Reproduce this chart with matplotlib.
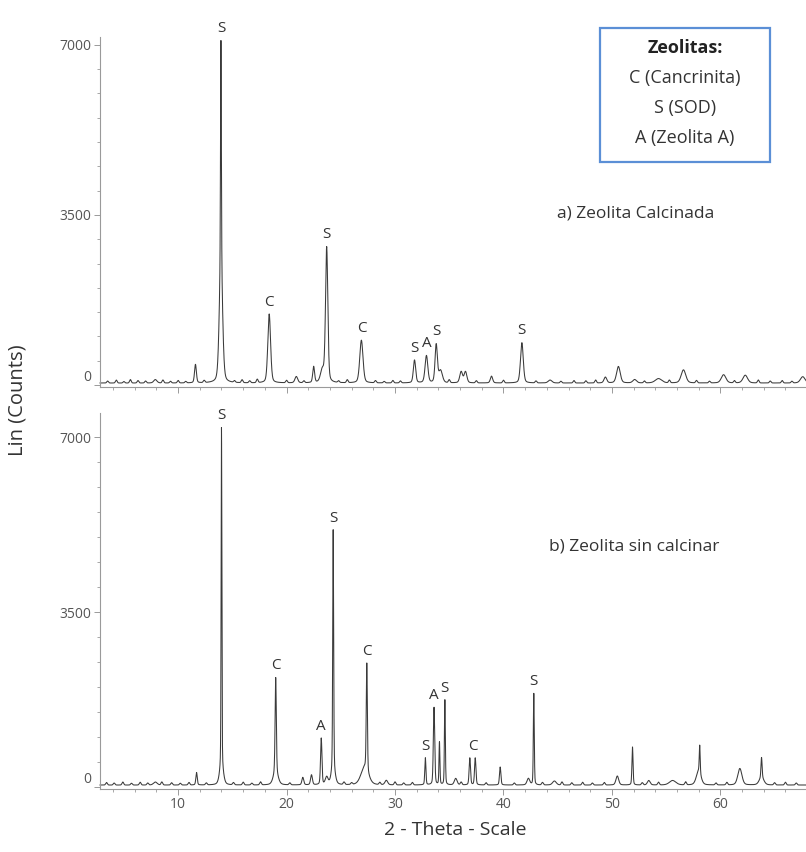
import matplotlib.pyplot as plt
from matplotlib.patches import Rectangle
from matplotlib.ticker import MultipleLocator
import numpy as np

plt.rcParams['font.family'] = ['Open Sans', 'DejaVu Sans']

# a) calcined zeolite: reflections (2-theta), heights (counts), FWHM (deg)
calc_pos = [7.9, 11.6, 13.95, 13.95, 18.4, 20.9, 22.5, 23.3, 23.7, 26.9,
            31.8, 32.9, 33.8, 34.2, 36.1, 36.5, 38.9, 41.7, 44.3, 49.4,
            50.6, 52.1, 54.3, 56.6, 60.3, 62.3, 67.6]
calc_height = [70, 380, 4600, 2450, 1420, 130, 330, 250, 2780, 880,
               470, 560, 780, 250, 230, 230, 140, 830, 60, 120,
               340, 70, 90, 270, 170, 160, 130]
calc_width = [0.35, 0.2, 0.09, 0.35, 0.3, 0.3, 0.2, 0.4, 0.25, 0.35,
              0.25, 0.3, 0.25, 0.4, 0.3, 0.3, 0.25, 0.3, 0.4, 0.3,
              0.4, 0.4, 0.7, 0.5, 0.5, 0.5, 0.5]

# small background wiggles of pattern a)
calc_ripple_pos = [3.5, 4.3, 5.0, 5.6, 6.3, 7.0, 8.6, 9.3, 10.0, 10.7,
                   12.4, 15.2, 15.9, 16.6, 17.3, 20.0, 21.6, 24.8, 25.6, 28.2,
                   29.0, 29.8, 30.5, 35.0, 37.5, 40.0, 43.0, 45.3, 46.5, 47.6,
                   48.5, 53.0, 55.3, 57.8, 59.0, 61.3, 63.5, 64.6, 65.7, 66.6]
calc_ripple_height = [40, 60, 30, 70, 50, 40, 60, 35, 50, 30,
                      45, 35, 60, 40, 70, 50, 40, 35, 60, 45,
                      30, 50, 40, 60, 45, 55, 40, 35, 50, 45,
                      60, 40, 55, 50, 35, 45, 60, 40, 50, 35]

# b) uncalcined zeolite
raw_pos = [7.9, 11.7, 14.0, 14.0, 19.0, 19.0, 21.5, 22.3, 23.2, 23.7,
           24.3, 24.3, 27.4, 27.2, 29.2, 32.8, 33.6, 34.1, 34.6, 35.6,
           36.9, 37.4, 39.7, 42.3, 42.8, 44.7, 50.5, 51.9, 53.4, 55.6,
           58.1, 58.0, 61.8, 63.8, 63.8]
raw_height = [60, 250, 6800, 350, 1900, 250, 150, 200, 930, 150,
              4800, 300, 2150, 350, 90, 540, 1550, 850, 1700, 130,
              540, 540, 360, 130, 1830, 80, 180, 760, 90, 90,
              550, 280, 330, 400, 150]
raw_width = [0.4, 0.15, 0.08, 0.4, 0.13, 0.5, 0.2, 0.2, 0.15, 0.3,
             0.1, 0.4, 0.12, 0.8, 0.3, 0.12, 0.15, 0.1, 0.1, 0.3,
             0.15, 0.15, 0.15, 0.3, 0.1, 0.4, 0.3, 0.12, 0.3, 0.7,
             0.1, 0.5, 0.45, 0.12, 0.5]

raw_ripple_pos = [3.4, 4.1, 4.9, 5.7, 6.5, 7.2, 8.5, 9.4, 10.2, 11.0,
                  12.6, 15.1, 16.0, 16.8, 17.6, 20.3, 25.3, 26.0, 28.6, 30.0,
                  30.8, 31.6, 36.1, 38.4, 41.0, 43.6, 45.4, 46.3, 47.3, 48.2,
                  49.3, 52.8, 54.3, 56.8, 59.6, 60.6, 65.0, 66.0, 67.0]
raw_ripple_height = [50, 40, 60, 35, 55, 40, 60, 45, 35, 50,
                     40, 45, 55, 35, 60, 40, 50, 35, 45, 60,
                     40, 50, 55, 45, 40, 50, 60, 45, 55, 40,
                     50, 45, 55, 60, 40, 50, 45, 55, 40]

background = 40

calc_label_pos = [13.95, 18.4, 23.7, 26.9, 31.8, 32.9, 33.8, 41.7]
calc_label_text = ['S', 'C', 'S', 'C', 'S', 'A', 'S', 'S']
raw_label_pos = [14.0, 19.0, 23.2, 24.3, 27.4, 32.8, 33.6, 34.6, 37.15, 42.8]
raw_label_text = ['S', 'C', 'A', 'S', 'C', 'S', 'A', 'S', 'C', 'S']

y_ticks = [0, 3500, 7000]


def pseudo_voigt(tt, pos, height, width, eta=0.3):
    u = (tt - pos) / width
    gauss = np.exp(-4 * np.log(2) * u**2)
    lorentz = 1.0 / (1.0 + 4 * u**2)
    return height * (eta * lorentz + (1 - eta) * gauss)


def pattern(tt, pos, height, width, rpos, rheight):
    y = np.full_like(tt, background, dtype=float)
    for p, h, w in zip(pos, height, width):
        y += pseudo_voigt(tt, p, h, w)
    for p, h in zip(rpos, rheight):
        y += pseudo_voigt(tt, p, h, 0.18, eta=0.0)
    return y


two_theta = np.arange(2.8, 67.95, 0.01)
y_calc = pattern(two_theta, calc_pos, calc_height, calc_width,
                 calc_ripple_pos, calc_ripple_height)
y_raw = pattern(two_theta, raw_pos, raw_height, raw_width,
                raw_ripple_pos, raw_ripple_height)

fig = plt.figure(figsize=(8.06, 8.52), dpi=100)
ax_a = fig.add_axes([0.1241, 0.5459, 0.8759, 0.4105])
ax_b = fig.add_axes([0.1241, 0.0745, 0.8759, 0.4407])

spine_col = '#9a9a9a'
text_col = '#333333'

for ax, y, lpos, ltext, ylim in [
        (ax_a, y_calc, calc_label_pos, calc_label_text, (-40, 7160)),
        (ax_b, y_raw, raw_label_pos, raw_label_text, (-30, 7480))]:
    ax.plot(two_theta, y, color='#3a3a3a', lw=0.75, clip_on=False)
    for x, t in zip(lpos, ltext):
        win = np.abs(two_theta - x) < 0.3
        ax.annotate(t, xy=(x, y[win].max()), xytext=(0, 3),
                    textcoords='offset points', ha='center', va='bottom',
                    fontsize=11, color=text_col)
    ax.set_xlim(2.8, 67.9)
    ax.set_ylim(*ylim)
    ax.set_yticks(y_ticks, labels=[str(v) for v in y_ticks])
    ax.get_yticklabels()[0].set_verticalalignment('bottom')
    ax.yaxis.set_minor_locator(MultipleLocator(500))
    ax.xaxis.set_major_locator(MultipleLocator(10))
    ax.xaxis.set_minor_locator(MultipleLocator(2))
    for side in ['top', 'right']:
        ax.spines[side].set_visible(False)
    for side in ['left', 'bottom']:
        ax.spines[side].set_color(spine_col)
        ax.spines[side].set_linewidth(0.8)
    ax.tick_params(which='major', length=4, width=0.7, color=spine_col,
                   labelsize=10, labelcolor='#555555', pad=2)
    ax.tick_params(which='minor', length=2.5, width=0.6, color=spine_col)
    ax.patch.set_alpha(0)

ax_a.tick_params(axis='x', labelbottom=False)

ax_a.text(0.789, 0.75, 'a) Zeolita Calcinada', transform=fig.transFigure,
          ha='center', va='center', fontsize=12.5, color=text_col)
ax_b.text(0.787, 0.358, 'b) Zeolita sin calcinar', transform=fig.transFigure,
          ha='center', va='center', fontsize=12.5, color=text_col)

fig.text(0.022, 0.53, 'Lin (Counts)', rotation=90, ha='center', va='center',
         fontsize=14.5, color=text_col)
fig.text(0.565, 0.026, '2 - Theta - Scale', ha='center', va='center',
         fontsize=14, color=text_col)

# phase key
fig.patches.append(Rectangle((0.7444, 0.8099), 0.2109, 0.1573,
                             transform=fig.transFigure, fill=False,
                             edgecolor='#5b8fd6', lw=1.6))
key_lines = ['Zeolitas:', 'C (Cancrinita)', 'S (SOD)', 'A (Zeolita A)']
key_y = [0.9437, 0.9085, 0.8732, 0.8380]
for line, yk in zip(key_lines, key_y):
    fig.text(0.8499, yk, line, ha='center', va='center', fontsize=13,
             color='#222222' if line.endswith(':') else text_col,
             fontweight='bold' if line.endswith(':') else 'normal')

plt.savefig('out.png', dpi=100)
